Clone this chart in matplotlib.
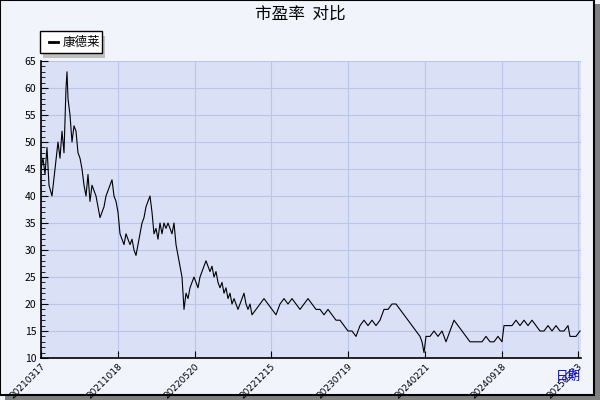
import matplotlib.pyplot as plt
from matplotlib.patches import Rectangle

plt.rcParams["font.family"] = ["Noto Sans CJK SC", "DejaVu Sans"]

# x = trading-day position (chart units), y = PE ratio
day = [0, 2, 4, 6, 8, 11, 14, 17, 19, 21, 23, 25, 26, 27, 29, 31, 33, 35, 37, 39,
       41, 43, 45, 47, 49, 51, 53, 55, 57, 59, 61, 63, 65, 67, 69, 71, 73, 75, 77, 79,
       81, 83, 85, 87, 89, 91, 93, 95, 97, 99, 101, 103, 105, 107, 109, 111, 113, 115,
       117, 119, 121, 123, 125, 127, 129, 131, 133, 135, 137, 139, 141, 143, 145, 147,
       149, 151, 153, 155, 157, 159, 161, 163, 165, 167, 169, 171, 173, 175, 177, 179,
       181, 183, 185, 187, 189, 191, 193, 195, 197, 199, 201, 203, 205, 207, 209, 211,
       215, 219, 223, 227, 231, 235, 239, 243, 247, 251, 255, 259, 263, 267, 271, 275,
       279, 283, 287, 291, 295, 299, 303, 307, 311, 315, 319, 323, 327, 331, 335, 339,
       343, 347, 351, 355, 359, 363, 367, 371, 375, 379, 381, 383, 385, 389, 393, 397,
       401, 405, 409, 413, 417, 421, 425, 429, 433, 437, 441, 445, 449, 453, 457, 461,
       463, 467, 471, 475, 479, 483, 487, 491, 495, 499, 503, 507, 511, 515, 519, 523,
       527, 529, 531, 535, 539]
pe = [45, 47, 44, 49, 42, 40, 45, 50, 47, 52, 48, 60, 63, 58, 55, 50, 53, 52, 48, 47,
      45, 42, 40, 44, 39, 42, 41, 40, 38, 36, 37, 38, 40, 41, 42, 43, 40, 39, 37, 33,
      32, 31, 33, 32, 31, 32, 30, 29, 31, 33, 35, 36, 38, 39, 40, 37, 33, 34, 32, 35,
      33, 35, 34, 35, 34, 33, 35, 31, 29, 27, 25, 19, 22, 21, 23, 24, 25, 24, 23, 25,
      26, 27, 28, 27, 26, 27, 25, 26, 24, 23, 24, 22, 23, 21, 22, 20, 21, 20, 19, 20,
      21, 22, 20, 19, 20, 18, 19, 20, 21, 20, 19, 18, 20, 21, 20, 21, 20, 19, 20, 21,
      20, 19, 19, 18, 19, 18, 17, 17, 16, 15, 15, 14, 16, 17, 16, 17, 16, 17, 19, 19,
      20, 20, 19, 18, 17, 16, 15, 14, 13, 11, 14, 14, 15, 14, 15, 13, 15, 17, 16, 15,
      14, 13, 13, 13, 13, 14, 13, 13, 14, 13, 16, 16, 16, 17, 16, 17, 16, 17, 16, 15,
      15, 16, 15, 16, 15, 15, 16, 14, 14, 14, 15]
tick_pos = [0, 77, 154, 230, 307, 384, 461, 537]
tick_labels = ["20210317", "20211018", "20220520", "20221215", "20230719",
               "20240221", "20240918", "20250323"]

fig = plt.figure(figsize=(6, 4), dpi=100, facecolor="#f2f4fc")
# outer border with shadow
fig.patches.append(Rectangle((0.008, 0.0), 0.992, 0.99, transform=fig.transFigure,
                             facecolor="#808080", edgecolor="none", zorder=-2))
fig.patches.append(Rectangle((0.0, 0.012), 0.99, 0.988, transform=fig.transFigure,
                             facecolor="#f2f4fc", edgecolor="black", lw=1.5, zorder=-1))

ax = fig.add_axes([41 / 600, 42 / 400, 540 / 600, 297 / 400])
ax.set_facecolor("#dae1f6")
ax.plot(day, pe, color="black", lw=0.8)
ax.set_xlim(0, 540)
ax.set_ylim(10, 65)
ax.set_yticks(range(10, 66, 5))
ax.set_yticks(range(10, 66, 1), minor=True)
ax.set_xticks(tick_pos)
ax.set_xticklabels(tick_labels, rotation=45, ha="right", rotation_mode="anchor",
                   fontsize=6.5, fontfamily="DejaVu Sans")
ax.tick_params(axis="y", labelsize=7.5, direction="in", length=5)
ax.tick_params(axis="y", which="minor", direction="in", length=3)
ax.tick_params(axis="x", direction="in", length=5, pad=3)
ax.grid(True, color="#b9c5ea", lw=0.8)
for s in ["top", "right"]:
    ax.spines[s].set_visible(False)
ax.spines["left"].set_linewidth(1.2)
ax.spines["bottom"].set_linewidth(1.2)

fig.text(0.5, 0.965, "市盈率  对比", ha="center", va="center", fontsize=12)
fig.text(0.968, 0.06, "日期", ha="right", va="center", fontsize=9, color="blue")

# legend box with shadow
fig.patches.append(Rectangle((43 / 600, 344 / 400 - 0.005), 62 / 600, 22 / 400,
                             transform=fig.transFigure, facecolor="#c0c0c0",
                             edgecolor="none"))
fig.patches.append(Rectangle((40 / 600, 347 / 400), 62 / 600, 22 / 400,
                             transform=fig.transFigure, facecolor="white",
                             edgecolor="black", lw=1))
fig.lines.append(plt.Line2D([49 / 600, 58 / 600], [358 / 400, 358 / 400],
                            transform=fig.transFigure, color="black", lw=2))
fig.text(63 / 600, 358 / 400, "康德莱", va="center", fontsize=9)

fig.savefig("out.png", dpi=100, facecolor=fig.get_facecolor())
